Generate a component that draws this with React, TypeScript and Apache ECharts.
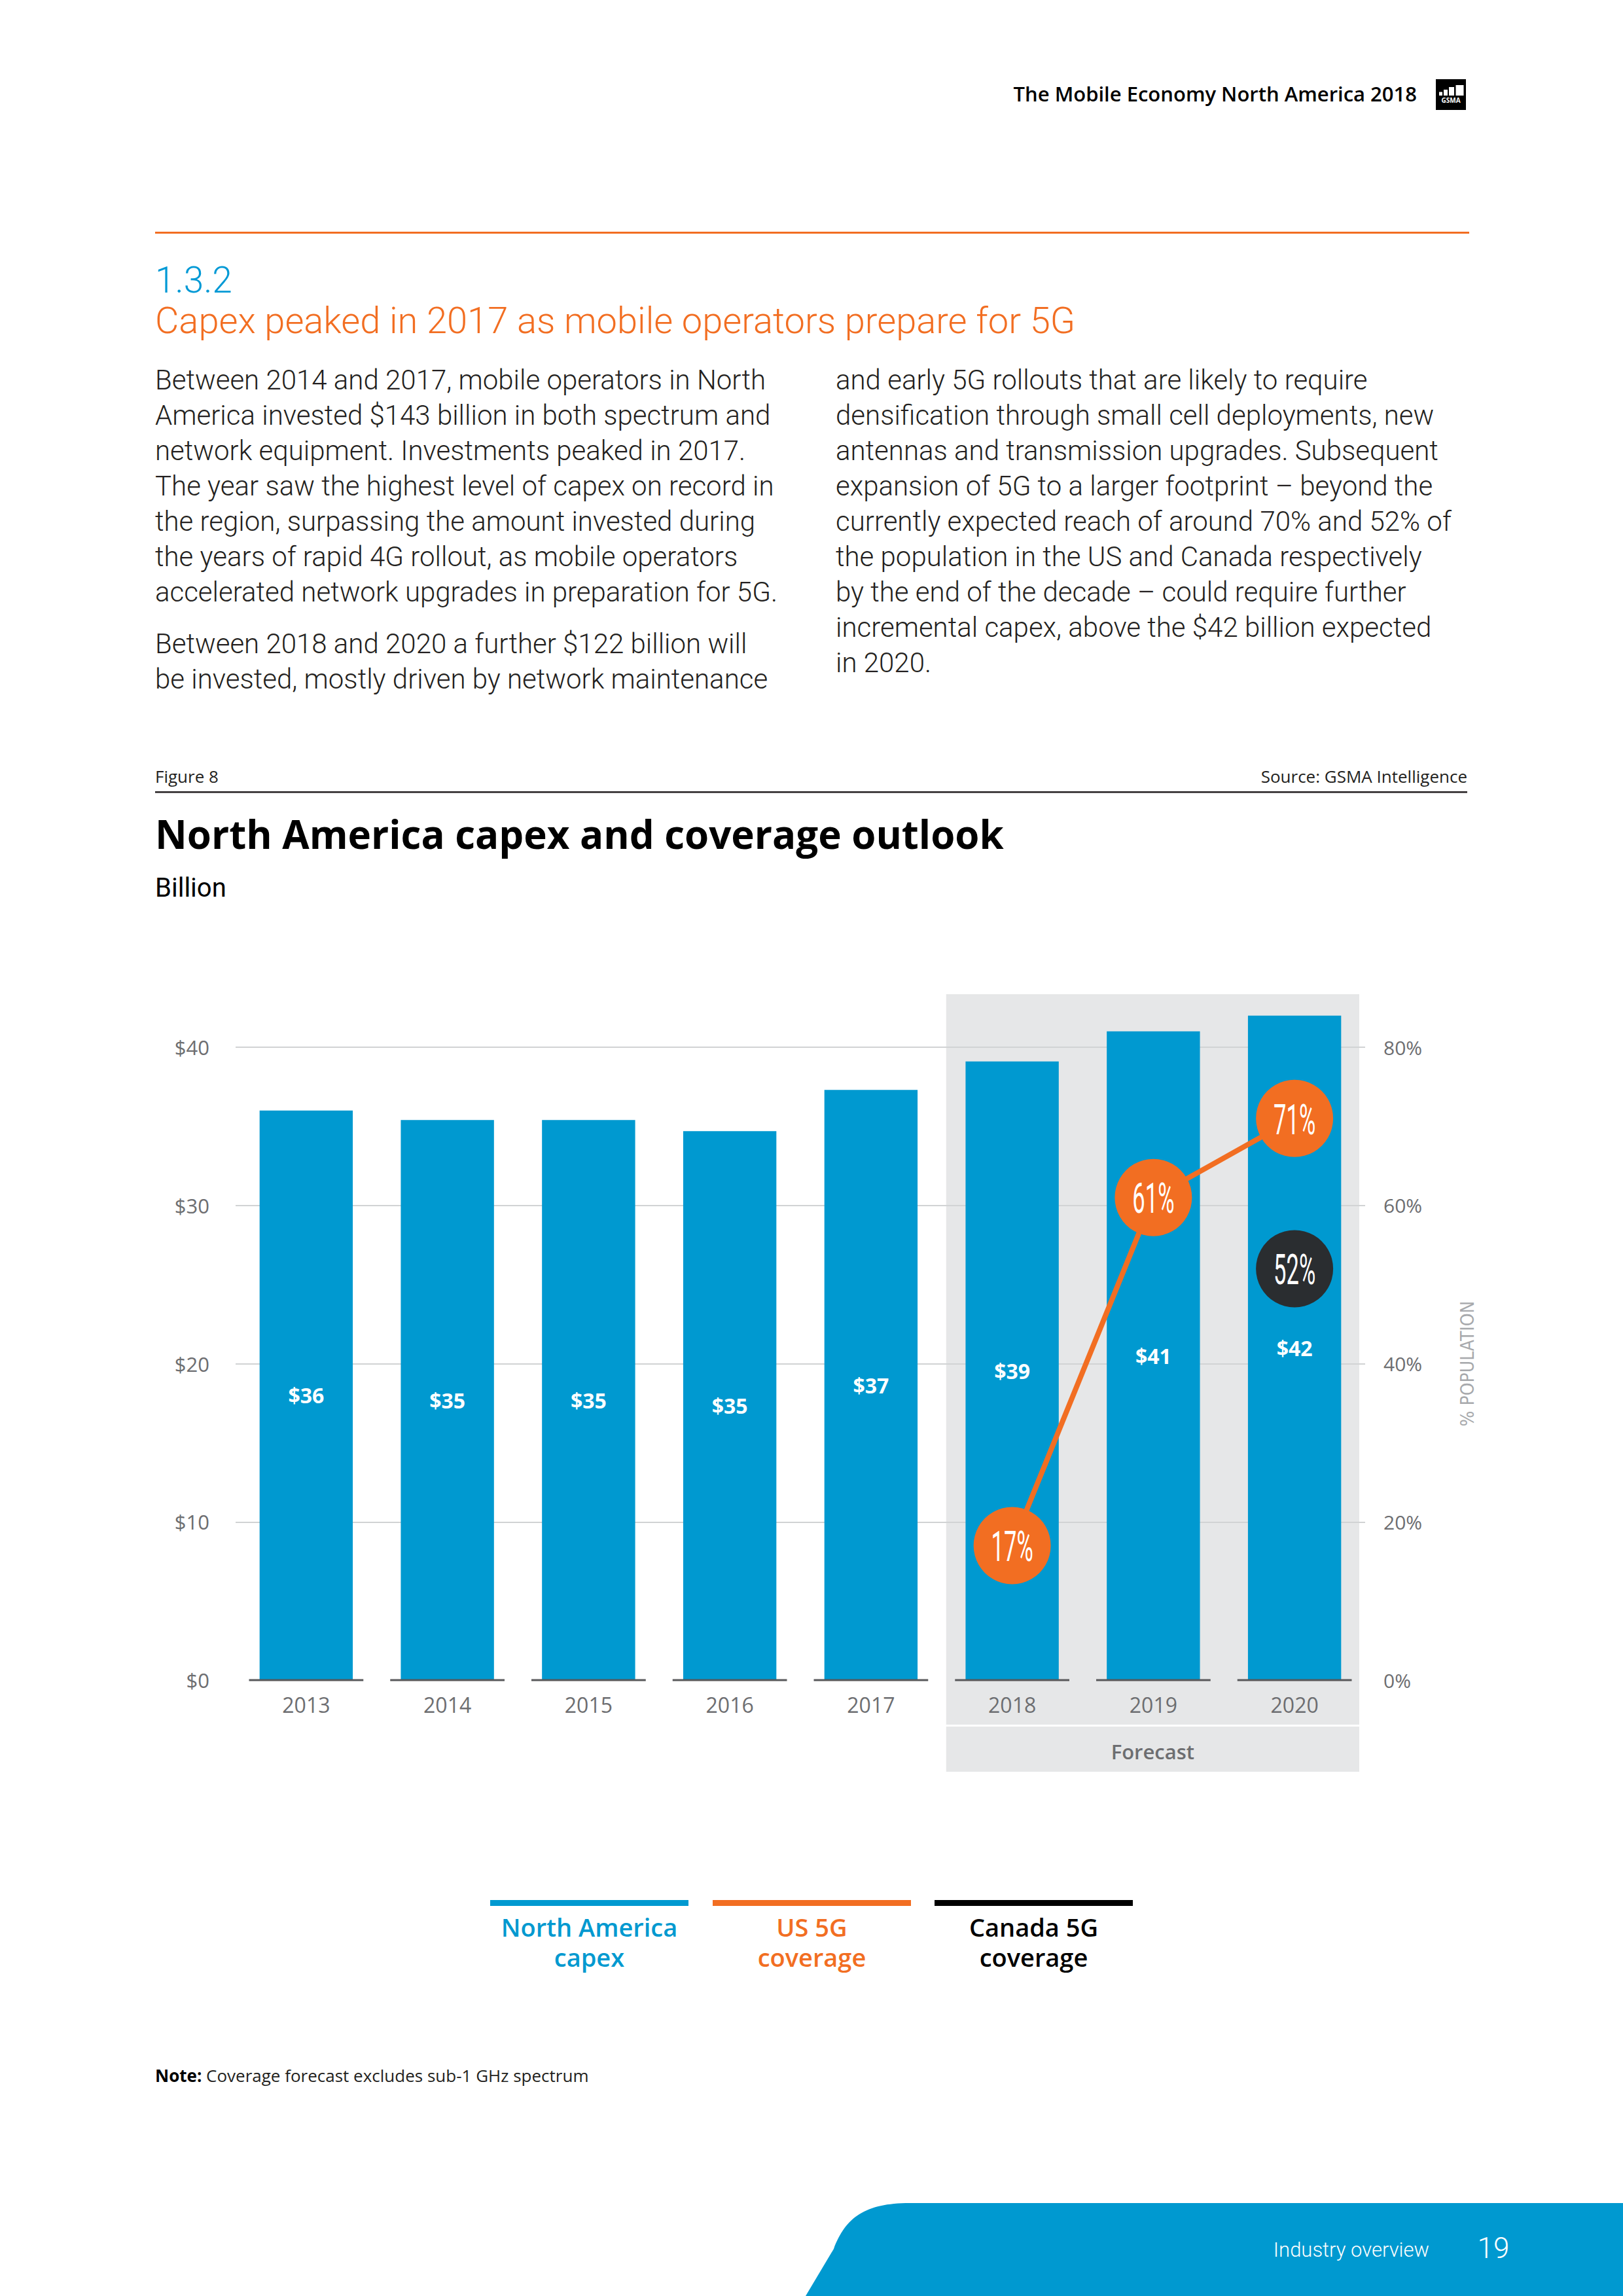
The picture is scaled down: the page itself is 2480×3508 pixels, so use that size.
import React, { useEffect, useRef } from "react";
import * as echarts from "echarts";

// ---------- data ----------
const categories = ["2013", "2014", "2015", "2016", "2017", "2018", "2019", "2020"];
const capexBillion = [36.0, 35.4, 35.4, 34.7, 37.3, 39.1, 41.0, 42.0];
const usCoverage: (number | string)[] = ["-", "-", "-", "-", "-", 17, 61, 71];
const canadaCoverage: (number | string)[] = ["-", "-", "-", "-", "-", "-", "-", 52];
const forecastYears = ["2018", "2020"];
const capexTicks = [0, 10, 20, 30, 40];
const coverageTicks = [0, 20, 40, 60, 80];

const legendItems = [
  { lines: ["North America", "capex"], color: "#0099d0" },
  { lines: ["US 5G", "coverage"], color: "#f26e22" },
  { lines: ["Canada 5G", "coverage"], color: "#000000" },
];

const bodyCol1 = [
  "Between 2014 and 2017, mobile operators in North",
  "America invested $143 billion in both spectrum and",
  "network equipment. Investments peaked in 2017.",
  "The year saw the highest level of capex on record in",
  "the region, surpassing the amount invested during",
  "the years of rapid 4G rollout, as mobile operators",
  "accelerated network upgrades in preparation for 5G.",
];
const bodyCol1b = [
  "Between 2018 and 2020 a further $122 billion will",
  "be invested, mostly driven by network maintenance",
];
const bodyCol2 = [
  "and early 5G rollouts that are likely to require",
  "densification through small cell deployments, new",
  "antennas and transmission upgrades. Subsequent",
  "expansion of 5G to a larger footprint \u2013 beyond the",
  "currently expected reach of around 70% and 52% of",
  "the population in the US and Canada respectively",
  "by the end of the decade \u2013 could require further",
  "incremental capex, above the $42 billion expected",
  "in 2020.",
];

// ---------- styles ----------
const SANS = "'Open Sans', 'Noto Sans', sans-serif";
const LIGHT = "Roboto, 'Open Sans', sans-serif";
const NARROW = "'Liberation Sans Narrow', 'DejaVu Sans Condensed', Roboto, sans-serif";
const BLUE = "#0099d0";
const ORANGE = "#f26e22";
const DARK = "#2a2d30";
const AXIS_GREY = "#6d6e71";

echarts.graphic.registerShape(
  "footerShape",
  echarts.graphic.extendPath(
    "M1231 3508 L1274 3436 C1292 3388 1322 3366 1390 3366 L2480 3366 L2480 3508 Z",
    {}
  )
);

function txt(x: number, y: number, text: string, font: string, fill: string, align = "left", extra: any = {}) {
  return {
    type: "text",
    x,
    y,
    silent: true,
    style: {
      text,
      font,
      fill,
      align,
      textAlign: align,
      verticalAlign: "middle",
      textVerticalAlign: "middle",
      ...extra,
    },
  };
}

function pageGraphics(): any[] {
  const g: any[] = [];
  // header
  g.push(txt(2165, 143, "The Mobile Economy North America 2018", `600 31px ${SANS}`, "#000", "right"));
  g.push({ type: "rect", shape: { x: 2194, y: 121, width: 46, height: 47 }, style: { fill: "#000" } });
  const bars = [
    [2199, 140.5, 5],
    [2206, 137, 6],
    [2214, 133, 8],
    [2224.5, 130, 12],
  ];
  bars.forEach(([x, y, w]) =>
    g.push({ type: "rect", shape: { x, y, width: w, height: 146 - y }, style: { fill: "#fff" } })
  );
  g.push(txt(2217, 153, "GSMA", `700 10px ${SANS}`, "#fff", "center"));
  g.push({ type: "rect", shape: { x: 237, y: 354, width: 2008, height: 3 }, style: { fill: ORANGE } });

  // section heading
  g.push(txt(237, 428, "1.3.2", `300 55px ${LIGHT}`, "#0099d5"));
  g.push(txt(237, 490, "Capex peaked in 2017 as mobile operators prepare for 5G", `300 56px ${LIGHT}`, ORANGE));

  // body
  const bodyFont = `300 42px ${LIGHT}`;
  const bodyColor = "#231f20";
  bodyCol1.forEach((l, i) => g.push(txt(237, 580 + 54 * i, l, bodyFont, bodyColor)));
  bodyCol1b.forEach((l, i) => g.push(txt(237, 983 + 54 * i, l, bodyFont, bodyColor)));
  bodyCol2.forEach((l, i) => g.push(txt(1277, 580 + 54 * i, l, bodyFont, bodyColor)));

  // figure header
  g.push(txt(237, 1186, "Figure 8", `400 26px ${SANS}`, "#231f20"));
  g.push(txt(2242, 1186, "Source: GSMA Intelligence", `400 26px ${SANS}`, "#231f20", "right"));
  g.push({ type: "rect", shape: { x: 237, y: 1209, width: 2005, height: 2.5 }, style: { fill: "#231f20" } });
  g.push(txt(237, 1274, "North America capex and coverage outlook", `700 60px ${SANS}`, "#000"));
  g.push(txt(237, 1356, "Billion", `400 40px ${LIGHT}`, "#000"));

  // legend
  const legendX = [749, 1089, 1428];
  legendItems.forEach((item, i) => {
    const x = legendX[i];
    g.push({ type: "rect", shape: { x, y: 2903, width: 303, height: 9 }, style: { fill: item.color } });
    item.lines.forEach((l, j) =>
      g.push(txt(x + 151.5, 2944 + 46 * j, l, `600 38px ${SANS}`, item.color, "center"))
    );
  });

  // note
  g.push({
    type: "text",
    x: 237,
    y: 3171,
    silent: true,
    style: {
      text: "{b|Note: }{r|Coverage forecast excludes sub-1 GHz spectrum}",
      verticalAlign: "middle",
      textVerticalAlign: "middle",
      rich: {
        b: { fontFamily: SANS, fontWeight: 700, fontSize: 26, fill: "#000", color: "#000" },
        r: { fontFamily: SANS, fontWeight: 400, fontSize: 26, fill: "#231f20", color: "#231f20" },
      },
    },
  });

  // footer
  g.push({ type: "footerShape", x: 0, y: 0, style: { fill: BLUE } });
  g.push(txt(2184, 3437, "Industry overview", `300 31px ${LIGHT}`, "#fff", "right"));
  g.push(txt(2282, 3435, "19", `300 44px ${LIGHT}`, "#fff", "center"));
  return g;
}

function buildOption(extraGraphics: any[]): any {
  return {
    animation: false,
    backgroundColor: "#fff",
    grid: { left: 360, right: 394, top: 1600, bottom: 941, containLabel: false },
    xAxis: {
      type: "category",
      data: categories,
      axisLine: { show: false },
      axisTick: { show: false },
      axisLabel: { margin: 21, fontSize: 32, color: AXIS_GREY, fontFamily: SANS },
    },
    yAxis: [
      {
        type: "value",
        min: capexTicks[0],
        max: capexTicks[capexTicks.length - 1],
        interval: capexTicks[1] - capexTicks[0],
        position: "left",
        axisLine: { show: false },
        axisTick: { show: false },
        axisLabel: { formatter: (v: number) => "$" + v, margin: 40, fontSize: 31, color: AXIS_GREY, fontFamily: SANS },
        splitLine: {
          show: true,
          lineStyle: {
            color: ["rgba(0,0,0,0)", "#d1d3d4", "#d1d3d4", "#d1d3d4", "#d1d3d4"],
            width: 2,
          },
        },
      },
      {
        type: "value",
        min: coverageTicks[0],
        max: coverageTicks[coverageTicks.length - 1],
        interval: coverageTicks[1] - coverageTicks[0],
        position: "right",
        axisLine: { show: false },
        axisTick: { show: false },
        splitLine: { show: false },
        axisLabel: { formatter: "{value}%", margin: 28, fontSize: 30, color: AXIS_GREY, fontFamily: SANS },
        name: "% POPULATION",
        nameLocation: "middle",
        nameRotate: 90,
        nameGap: 142,
        nameTextStyle: { fontSize: 28, color: "#a7a9ac", fontFamily: NARROW, fontWeight: 400 },
      },
    ],
    graphic: [...extraGraphics, ...pageGraphics()],
    series: [
      {
        type: "bar",
        name: "North America capex",
        data: capexBillion,
        barWidth: "66%",
        clip: false,
        z: 2,
        itemStyle: { color: BLUE },
        label: {
          show: true,
          position: "inside",
          formatter: (p: any) => "$" + Math.round(p.value),
          color: "#fff",
          fontSize: 32,
          fontWeight: 700,
          fontFamily: SANS,
        },
      },
      {
        type: "custom",
        name: "baseline",
        data: categories.map((c, i) => [i, 0]),
        encode: { x: 0, y: 1 },
        z: 3,
        silent: true,
        renderItem: (params: any, api: any) => {
          const p = api.coord([api.value(0), 0]);
          const w = api.size([1, 0])[0] * 0.81;
          return {
            type: "line",
            shape: { x1: p[0] - w / 2, y1: p[1], x2: p[0] + w / 2, y2: p[1] },
            style: { stroke: "#58595b", lineWidth: 3 },
          };
        },
      },
      {
        type: "line",
        name: "US 5G coverage",
        yAxisIndex: 1,
        data: usCoverage,
        z: 4,
        symbol: "circle",
        symbolSize: 118,
        lineStyle: { color: ORANGE, width: 8 },
        itemStyle: { color: ORANGE, opacity: 1 },
        label: { show: false },
      },
      {
        type: "scatter",
        name: "Canada 5G coverage",
        yAxisIndex: 1,
        data: canadaCoverage,
        z: 4,
        symbol: "circle",
        symbolSize: 118,
        itemStyle: { color: DARK, opacity: 1 },
        label: { show: false },
      },
    ],
  };
}

export default function App() {
  const ref = useRef<HTMLDivElement>(null);
  useEffect(() => {
    const chart = echarts.init(ref.current!, null, { renderer: "svg" });
    chart.setOption(buildOption([]));
    const px = (c: string) => chart.convertToPixel({ xAxisIndex: 0 }, c) as number;
    const band = px(categories[1]) - px(categories[0]);
    const xa = px(forecastYears[0]) - band / 2 + 7;
    const xb = px(forecastYears[1]) + band / 2 - 9;
    const y0 = chart.convertToPixel({ yAxisIndex: 0 }, capexTicks[0]) as number;
    const yTop = chart.convertToPixel({ yAxisIndex: 0 }, capexTicks[capexTicks.length - 1]) as number;
    const top = yTop - 81;
    const extra: any[] = [
      { type: "rect", z: -1, silent: true, shape: { x: xa, y: top, width: xb - xa, height: y0 + 68 - top }, style: { fill: "#e6e7e8" } },
      { type: "rect", z: -1, silent: true, shape: { x: xa, y: y0 + 71, width: xb - xa, height: 69 }, style: { fill: "#e6e7e8" } },
      txt((xa + xb) / 2, y0 + 109, "Forecast", `600 31px ${SANS}`, AXIS_GREY, "center"),
    ];
    // bubble value labels (condensed), positioned through the chart's scales
    [usCoverage, canadaCoverage].forEach((arr) => {
      arr.forEach((v, i) => {
        if (typeof v !== "number") return;
        const x = px(categories[i]);
        const y = chart.convertToPixel({ yAxisIndex: 1 }, v) as number;
        extra.push({
          type: "text",
          x,
          y: y + 2,
          z: 20,
          scaleX: 0.54,
          silent: true,
          style: {
            text: v + "%",
            font: `400 64px ${LIGHT}`,
            fill: "#fff",
            align: "center",
            textAlign: "center",
            verticalAlign: "middle",
            textVerticalAlign: "middle",
          },
        });
      });
    });
    chart.setOption(buildOption(extra), { notMerge: true });
    return () => chart.dispose();
  }, []);
  return (
    <div
      ref={ref}
      style={{ position: "absolute", left: 0, top: 0, width: 2480, height: 3508 }}
    />
  );
}
